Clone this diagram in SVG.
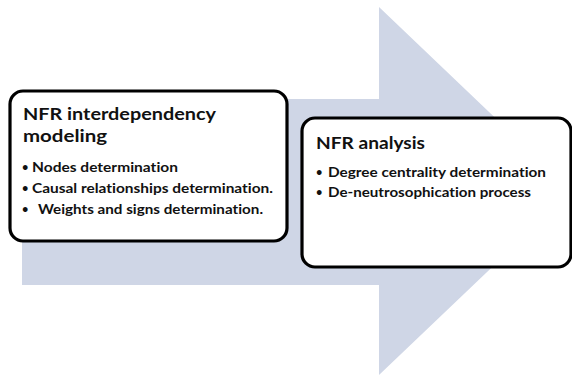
<svg xmlns="http://www.w3.org/2000/svg" width="572" height="376" viewBox="0 0 572 376">
<style>
.box{fill:#fff;stroke:#000;stroke-width:3.2}
.t{font-family:Lato,"Open Sans",sans-serif;font-weight:bold;fill:#111;font-variant-ligatures:none}
.h{font-size:17px}
.b{font-size:13.5px}
.d{font-size:11px}
</style>
<rect width="572" height="376" fill="#fff"/>
<g id="connectors">
<polygon id="arrow" points="22,99 379,99 379,7 572,191 379,375 379,285 22,285" fill="#CFD6E6"/>
</g>
<g id="node-modeling">
<rect class="box" x="10" y="91" width="277" height="150" rx="13"/>
<text class="t h" x="23" y="120" textLength="193" lengthAdjust="spacingAndGlyphs">NFR interdependency</text>
<text class="t h" x="23" y="142" textLength="84" lengthAdjust="spacingAndGlyphs">modeling</text>
<text class="t d" x="22" y="171">•</text>
<text class="t b" x="32" y="172" textLength="146" lengthAdjust="spacingAndGlyphs">Nodes determination</text>
<text class="t d" x="22" y="192">•</text>
<text class="t b" x="32" y="193" textLength="241" lengthAdjust="spacingAndGlyphs">Causal relationships determination.</text>
<text class="t d" x="22" y="213">•</text>
<text class="t b" x="38" y="214" textLength="225" lengthAdjust="spacingAndGlyphs">Weights and signs determination.</text>
</g>
<g id="node-analysis">
<rect class="box" x="302" y="118" width="269" height="149" rx="13"/>
<text class="t h" x="316" y="149" textLength="109" lengthAdjust="spacingAndGlyphs">NFR analysis</text>
<text class="t d" x="316" y="176">•</text>
<text class="t b" x="328" y="177" textLength="218" lengthAdjust="spacingAndGlyphs">Degree centrality determination</text>
<text class="t d" x="316" y="196">•</text>
<text class="t b" x="328" y="197" textLength="203" lengthAdjust="spacingAndGlyphs">De-neutrosophication process</text>
</g>
</svg>
